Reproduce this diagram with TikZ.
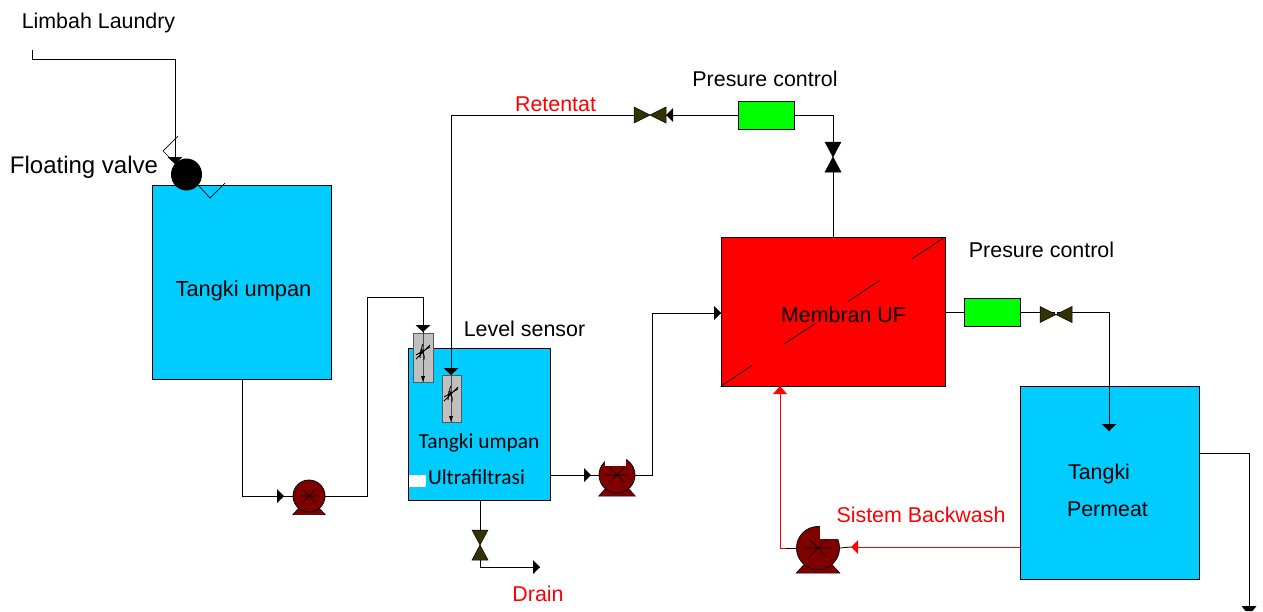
\documentclass[tikz,border=0pt]{standalone}
\usepackage{fontspec}
\usetikzlibrary{shapes.geometric}
\setmainfont{Liberation Sans}
\newfontfamily\carl{Carlito}
\definecolor{tankblue}{HTML}{00CCFF}
\definecolor{pumpred}{HTML}{800000}
\definecolor{valveol}{HTML}{333300}
\definecolor{meter}{HTML}{C0C0C0}
\tikzset{
 x=1pt,y=-1pt,
 tank/.style={draw=black,line width=.8pt,fill=tankblue,inner sep=0},
 pipe/.style={draw=black,line width=.8pt},
 redpipe/.style={draw=red,line width=.8pt},
 tipblack/.style={fill=black,draw=none},
 tipred/.style={fill=red,draw=none},
 lab/.style={font=\fontsize{21.4}{24}\selectfont,inner sep=0,anchor=center},
 redlab/.style={lab,text=red},
 clab/.style={font=\carl\fontsize{21.4}{24}\selectfont,inner sep=0,anchor=center},
 pumpbody/.style={circle,draw=black,line width=.8pt,fill=pumpred,inner sep=0},
 greenbox/.style={draw=black,line width=.9pt,fill=green,inner sep=0},
 meterbox/.style={draw=black!65,line width=.8pt,fill=meter,inner sep=0},
 junction/.style={inner sep=0,minimum size=1pt},
}
\newcommand{\tipR}[3][tipblack]{\fill[#1] (#2-7,#3-7) -- (#2,#3) -- (#2-7,#3+7) -- cycle;}
\newcommand{\tipL}[3][tipblack]{\fill[#1] (#2+7,#3-7) -- (#2,#3) -- (#2+7,#3+7) -- cycle;}
\newcommand{\tipD}[3][tipblack]{\fill[#1] (#2-7.5,#3-7) -- (#2,#3) -- (#2+7.5,#3-7) -- cycle;}
\newcommand{\tipU}[3][tipblack]{\fill[#1] (#2-7,#3+8) -- (#2,#3) -- (#2+7,#3+8) -- cycle;}
\newcommand{\valveH}[3]{\draw[black,line width=.5pt,fill=#3] (#1-16,#2-8) -- (#1+16,#2+8) -- (#1+16,#2-8) -- (#1-16,#2+8) -- cycle;}
\newcommand{\valveV}[3]{\draw[black,line width=.5pt,fill=#3] (#1-8,#2-15) -- (#1+8,#2+15) -- (#1-8,#2+15) -- (#1+8,#2-15) -- cycle;}
\newcommand{\pumpsym}[4]{%
 \fill[pumpred,draw=black,line width=.5pt] (#2-#4*1.02,#3+#4*1.17) -- (#2-#4*.5,#3+#4*.6) -- (#2+#4*.5,#3+#4*.6) -- (#2+#4*1.02,#3+#4*1.17) -- cycle;
 \node[pumpbody,minimum size=2*#4 pt] (#1) at (#2,#3) {};
 \draw[black,line width=.6pt] (#2-#4*.65,#3) -- (#2+#4*.65,#3) (#2-#4*.42,#3-#4*.42) -- (#2+#4*.42,#3+#4*.42) (#2-#4*.42,#3+#4*.42) -- (#2+#4*.42,#3-#4*.42);}
\newcommand{\metersym}[2]{%
 \draw[black,line width=.9pt] (#1-7,#2+7) -- (#1+7,#2-7) (#1-7,#2+3) -- (#1+7,#2-5) (#1,#2-8) .. controls (#1-4,#2-2) and (#1+3,#2+2) .. (#1+1,#2+8) (#1-2,#2-3) -- (#1-3,#2+6);}
\begin{document}
\begin{tikzpicture}
\useasboundingbox (0,0) rectangle (1263,611);
% tanks
\node[tank,minimum width=179pt,minimum height=194pt] (T1) at (241.5,282) {};
\node[tank,minimum width=142pt,minimum height=152pt] (T2) at (479,424) {};
\node[tank,minimum width=179pt,minimum height=193pt] (T3) at (1109.5,482.5) {};
\node[draw=black,line width=.8pt,fill=red,inner sep=0,minimum width=224pt,minimum height=149pt] (UF) at (833,311.5) {};
\draw[black,line width=.7pt,dash pattern=on 38pt off 38.5pt] (UF.south west) -- (UF.north east);
\node[fill=white,inner sep=0,minimum width=17pt,minimum height=12pt] (gap) at (417,481) {};
% coordinates
\coordinate (a0) at (32,50);\coordinate (a1) at (32,59);\coordinate (a2) at (175,59);\coordinate (a3) at (175,158);
\coordinate (b1) at (242,496);
\coordinate (c1) at (367,496);\coordinate (c2) at (367,297);\coordinate (c3) at (423,297);\coordinate (c4) at (423,333);
\coordinate (d1) at (451,375);\coordinate (d2) at (451,115);
\coordinate (e1) at (550,475);
\coordinate (f1) at (652,475);\coordinate (f2) at (652,313);\coordinate (f3) at (721,313);
\coordinate (g1) at (833,115);
\coordinate (h1) at (480,567);\coordinate (h2) at (540,567);
\coordinate (i1) at (1109,312);\coordinate (i2) at (1109,431);
\coordinate (j1) at (1199,453);\coordinate (j2) at (1249,453);\coordinate (j3) at (1249,607);
\coordinate (k1) at (1020,547);\coordinate (k2) at (780,548);\coordinate (k3) at (780,386);\coordinate (k4) at (851,547);
% equipment anchors
\node[greenbox,minimum width=56pt,minimum height=28pt] (G1) at (766,115) {};
\node[greenbox,minimum width=56pt,minimum height=28pt] (G2) at (992,312) {};
\node[junction] (V1) at (650,115) {};
\node[junction] (V2) at (833,157) {};
\node[junction] (V3) at (1056,312) {};
\node[junction] (V4) at (480,545) {};
% pumps
\pumpsym{P1}{309}{496}{16}
\pumpsym{P2}{617}{475}{18}
\pumpsym{P3}{818}{548}{21.5}
% pipes
\draw[pipe] (a0) -- (a1) -- (a2) -- (a3);
\draw[pipe] (b1 |- T1.south) -- (b1) -- (P1.west);
\draw[pipe] (P1.east) -- (c1) -- (c2) -- (c3) -- (c4);
\draw[pipe] (d1) -- (d2) -- (V1);
\draw[pipe] (G1.west) -- (V1);
\draw[pipe] (G1.east) -- (g1) -- (V2);
\draw[pipe] (V2) -- (UF.north);
\draw[pipe] (e1) -- (P2.west);
\draw[pipe] (P2.east) -- (f1) -- (f2) -- (f3);
\draw[pipe] (V4 |- T2.south) -- (V4);
\draw[pipe] (V4) -- (h1) -- (h2);
\draw[pipe] (UF.east |- G2) -- (G2.west);
\draw[pipe] (G2.east) -- (V3);
\draw[pipe] (V3) -- (i1) -- (i2);
\draw[pipe] (j1) -- (j2) -- (j3);
\draw[redpipe] (k1) -- (k4);
\draw[pipe] (k4) -- (P3.east);
\draw[pipe] (P3.west) -- (786,548);
\draw[redpipe] (786,548) -- (k2) -- (k3);
\fill[white] (605,455) rectangle (626,466);
\fill[white] (820,524) rectangle (840,539);
% meters
\node[meterbox,minimum width=20pt,minimum height=49pt] (M1) at (423,357.5) {};
\node[meterbox,minimum width=19pt,minimum height=47pt] (M2) at (451.5,398.5) {};
\draw[black!70,line width=.6pt] (M1.north) -- (M1.south);
\draw[black!70,line width=.6pt] (M2.north) -- (M2.south);
\metersym{423}{352}
\metersym{451}{394}
\fill[black] (421,376) -- (425,376) -- (423,382) -- cycle;
\fill[black] (449,416) -- (453,416) -- (451,422) -- cycle;
% valves
\valveH{650}{115}{valveol}
\valveV{833}{157}{black}
\valveH{1056}{314.5}{valveol}
\valveV{480}{545}{valveol}
% tips
\tipD{175}{164}
\tipR{284}{496}
\tipD{423}{332}
\tipD{451}{375}
\tipL{666}{115}
\tipR{721}{313}
\tipR{591}{475}
\tipR{540}{567}
\tipD{1109}{431}
\fill[tipblack] (1241.5,606) -- (1256.5,606) -- (1252.5,611) -- (1245.5,611) -- cycle;
\tipL[tipred]{851}{547}
\tipU[tipred]{780}{386}
% floating valve
\draw[black,line width=.7pt] (178,136) -- (163,151) -- (173,161);
\draw[black,line width=.7pt] (199,186) -- (210,198) -- (225,183);
\node[ellipse,fill=black,inner sep=0,minimum width=31pt,minimum height=32pt] (FV) at (186.5,174.5) {};
% labels
\node[lab] (L1) at (98.5,23) {Limbah Laundry};
\node[lab,font=\fontsize{24}{27}\selectfont] (L2) at (84,167) {Floating valve};
\node[lab,font=\fontsize{21.8}{24}\selectfont] (L3) at (243.5,291) {Tangki umpan};
\node[lab] (L4) at (524.5,329) {Level sensor};
\node[redlab] (L5) at (555.5,104) {Retentat};
\node[lab] (L6) at (765,79) {Presure control};
\node[lab] (L7) at (1041.5,250) {Presure control};
\node[lab] (L8) at (843.5,315) {Membran UF};
\node[clab] (L9) at (479,443) {Tangki umpan};
\node[clab] (L10) at (476.5,477) {Ultrafiltrasi};
\node[redlab] (L11) at (538,594) {Drain};
\node[redlab] (L12) at (921,515) {Sistem Backwash};
\node[lab] (L13) at (1099,474) {Tangki};
\node[lab] (L14) at (1107.5,509) {Permeat};
\end{tikzpicture}
\end{document}
